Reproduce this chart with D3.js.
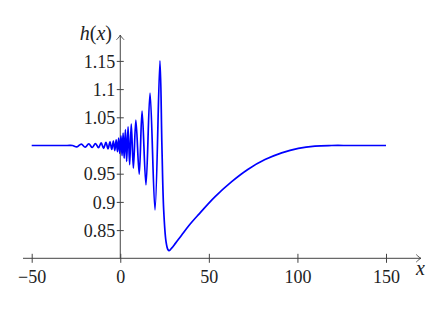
<!DOCTYPE html>
<html>
<head>
<meta charset="utf-8">
<script src="https://cdn.jsdelivr.net/npm/d3@7"></script>
<style>
  body { margin: 0; background: #fff; }
  svg text { font-family: "Liberation Serif", "Times New Roman", serif !important; }
</style>
</head>
<body>
<div class="chart"></div>
<script>
// values (peaks, troughs and the long recovery)
var xs = [-50, -30, -27, -24.5, -22, -19.8, -17.8, -15.8, -14, -12.3, -10.8, -9.4, -8.1, -6.9,
          -5.8, -4.8, -3.9, -3.1, -2.3, -1.6, -0.9, -0.3, 0.4, 1.0, 1.6, 2.2, 2.9, 3.6, 4.4,
          5.3, 6.2, 7.4, 8.8, 10.7, 12.3, 14.5, 16.8, 19.6, 22.4, 23.5, 24.5, 25.8, 26.8,
          27.6, 29, 31, 34.6, 39, 44, 53.4, 62.9, 72.2, 81.7, 91.1, 100.5, 109.9, 119.3, 130, 150];
var hs = [1, 1, 1, 0.9975, 1.0025, 0.997, 1.003, 0.9965, 1.0035, 0.996, 1.0045, 0.995, 1.0055, 0.994,
          1.0065, 0.993, 1.008, 0.991, 1.01, 0.989, 1.013, 0.986, 1.017, 0.982, 1.022, 0.977, 1.028, 0.972, 1.033,
          0.966, 1.038, 0.960, 1.045, 0.949, 1.061, 0.930, 1.093, 0.886, 1.15, 1.0, 0.886, 0.83, 0.816,
          0.8135, 0.818, 0.826, 0.841, 0.859, 0.877, 0.909, 0.936, 0.958, 0.975, 0.987, 0.995, 0.999, 1.0, 1.0, 1.0];

var xTicks = [-50, 0, 50, 100, 150];
var yTicks = [0.85, 0.9, 0.95, 1.05, 1.1, 1.15];

var W = 443, H = 313;
var serif = '"Liberation Serif", "Times New Roman", serif';

var svg = d3.select('.chart')
            .append('svg')
            .attr('width', W)
            .attr('height', H)
            .attr('font-family', serif);

var x = d3.scaleLinear().domain([-50, 150]).range([31.7, 386]);
var y = d3.scaleLinear().domain([0.8, 1.2]).range([258.3, 32.7]);

var axisColor = '#444';

// latex style arrow head
svg.append('defs').append('marker')
   .attr('id', 'arr')
   .attr('viewBox', '-6 -5 8 10')
   .attr('refX', 0).attr('refY', 0)
   .attr('markerWidth', 8).attr('markerHeight', 10)
   .attr('markerUnits', 'userSpaceOnUse')
   .attr('orient', 'auto')
   .append('path')
   .attr('d', 'M-4.5,-3.5 C-2.5,-1.5 -1,-0.4 0,0 C-1,0.4 -2.5,1.5 -4.5,3.5')
   .attr('fill', 'none')
   .attr('stroke', axisColor)
   .attr('stroke-width', 0.9)
   .attr('stroke-linecap', 'round');

var x0 = x(0), yAxisY = y(0.8);

// x axis
var xAxis = svg.append('g')
   .attr('transform', 'translate(0,' + yAxisY + ')')
   .call(d3.axisBottom(x).tickValues(xTicks).tickSize(0).tickFormat(function(d) { return d < 0 ? '\u2212' + Math.abs(d) : d; }));
xAxis.attr('font-family', serif);
xAxis.select('.domain').remove();
xAxis.selectAll('.tick line').attr('y1', -4.5).attr('y2', 4.5).attr('stroke', axisColor);
xAxis.selectAll('.tick text')
     .attr('y', 25).attr('dy', 0)
     .attr('font-size', 18).attr('fill', '#222');

svg.append('line')
   .attr('x1', 23).attr('x2', 421)
   .attr('y1', yAxisY).attr('y2', yAxisY)
   .attr('stroke', axisColor).attr('stroke-width', 1)
   .attr('marker-end', 'url(#arr)');

// y axis
var yAxis = svg.append('g')
   .attr('transform', 'translate(' + x0 + ',0)')
   .call(d3.axisLeft(y).tickValues(yTicks).tickSize(0).tickFormat(function(d) { return String(+d.toFixed(2)); }));
yAxis.attr('font-family', serif);
yAxis.select('.domain').remove();
yAxis.selectAll('.tick line').attr('x1', -3.5).attr('x2', 3.5).attr('stroke', axisColor);
yAxis.selectAll('.tick text')
     .attr('x', -5).attr('dy', '0.34em')
     .attr('font-size', 18).attr('fill', '#222');

svg.append('line')
   .attr('x1', x0).attr('x2', x0)
   .attr('y1', yAxisY).attr('y2', 35)
   .attr('stroke', axisColor).attr('stroke-width', 1)
   .attr('marker-end', 'url(#arr)');

// axis labels
svg.append('text')
   .attr('x', 112).attr('y', 40)
   .attr('text-anchor', 'end')
   .attr('font-size', 20).attr('fill', '#222')
   .html('<tspan font-style="italic">h</tspan>(<tspan font-style="italic">x</tspan>)');

svg.append('text')
   .attr('x', 416).attr('y', 275)
   .attr('font-size', 20).attr('font-style', 'italic').attr('fill', '#222')
   .text('x');

// the curve
var pts = xs.map(function(v, i) { return [v, hs[i]]; });
var line = d3.line()
             .x(function(d) { return x(d[0]); })
             .y(function(d) { return y(d[1]); })
             .curve(d3.curveCatmullRom.alpha(0.5));

svg.append('path')
   .datum(pts)
   .attr('d', line)
   .attr('fill', 'none')
   .attr('stroke', '#0000ff')
   .attr('stroke-width', 1.7)
   .attr('stroke-linejoin', 'round');
</script>
</body>
</html>
